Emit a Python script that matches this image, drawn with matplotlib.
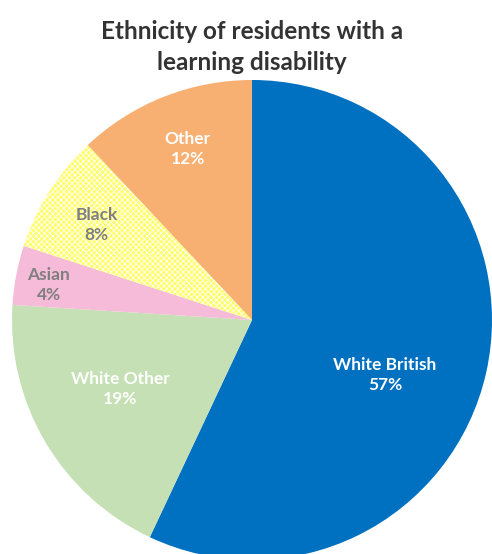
import matplotlib.pyplot as plt
from matplotlib.patches import Wedge
import numpy as np

# Datos
categorias = ['White British', 'White Other', 'Asian', 'Black', 'Other']
porcentajes = [57, 19, 4, 8, 12]
colores = ['#0070C0', '#C5E0B4', '#F6BBD9', '#FFFF66', '#F8B072']
color_texto = ['white', 'white', '#7F7F7F', '#7F7F7F', 'white']

plt.rcParams['font.family'] = ['Lato', 'DejaVu Sans']
plt.rcParams['hatch.linewidth'] = 0.6

fig = plt.figure(figsize=(4.92, 5.54), dpi=100)
ax = fig.add_axes([0, 0, 1, 1])

centro = (252, 234)
radio = 240
wedges, _ = ax.pie(porcentajes, colors=colores, startangle=90, counterclock=False,
                   center=centro, radius=radio, frame=False,
                   wedgeprops={'linewidth': 0})

# Trama punteada del segmento "Black"
w = wedges[3]
ax.add_patch(Wedge(centro, radio, w.theta1, w.theta2, facecolor='none',
                   edgecolor='white', hatch='xxxxxx', linewidth=0))

# Etiquetas
dist = [0.6, 0.62, 0.86, 0.76, 0.76]
desfase = [-10, -3, 1, 1, -1]
for w, cat, p, d, da, c in zip(wedges, categorias, porcentajes, dist, desfase, color_texto):
    ang = np.deg2rad((w.theta1 + w.theta2) / 2 + da)
    x = centro[0] + d * radio * np.cos(ang)
    y = centro[1] + d * radio * np.sin(ang)
    ax.text(x, y, f'{cat}\n{p}%', ha='center', va='center', color=c,
            fontsize=12.5, fontweight='bold', linespacing=1.3)

ax.set_xlim(0, 492)
ax.set_ylim(0, 554)
ax.set_aspect('equal')
ax.axis('off')

fig.text(0.512, 0.915, 'Ethnicity of residents with a\nlearning disability',
         ha='center', va='center', fontsize=17.5, fontweight='bold', color='#333333',
         linespacing=1.4)

fig.savefig('out.png', dpi=100)
